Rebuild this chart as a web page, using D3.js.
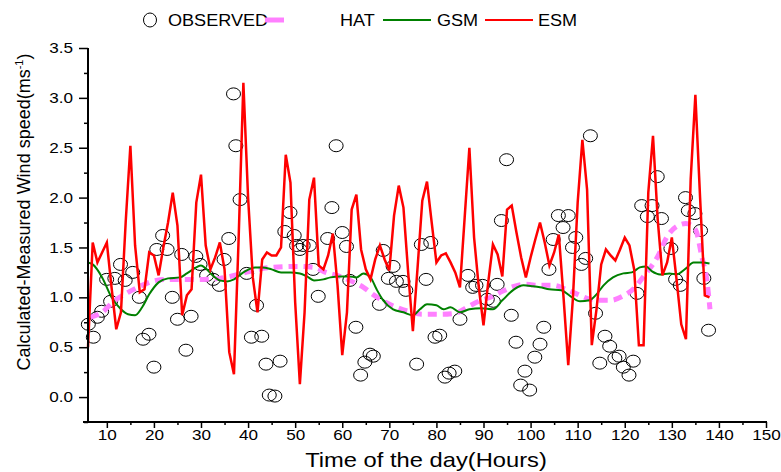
<!DOCTYPE html>
<html><head><meta charset="utf-8">
<script src="https://cdn.jsdelivr.net/npm/d3@7/dist/d3.min.js"></script>
<style>body{margin:0;background:#fff} text{font-family:"Liberation Sans",Arial,sans-serif;fill:#000}</style>
</head><body><svg id="c" width="781" height="472"></svg>
<script>
// ---------- data ----------
const xTickValues = [10,20,30,40,50,60,70,80,90,100,110,120,130,140,150];
const xMinorValues = [15,25,35,45,55,65,75,85,95,105,115,125,135,145];
const yTickValues = [0,0.5,1,1.5,2,2.5,3,3.5];
const yMinorValues = [-0.25,0.25,0.75,1.25,1.75,2.25,2.75,3.25];
const seriesNames = ["OBSERVED","HAT","GSM","ESM"];

const esmStartHour = 6;
const esmValues = [0.5,1.55,1.35,1.45,1.55,1.1,0.68,0.85,1.75,2.52,
 1.52,1.05,1.08,1.45,1.42,1.22,1.5,1.75,2.05,1.72,
 0.82,1.02,1.08,1.95,2.23,1.52,1.28,1.4,1.55,1.28,
 0.45,0.23,1.6,3.15,2.0,1.2,0.85,1.38,1.45,1.42,
 1.42,1.5,2.43,2.15,0.95,0.13,0.85,1.98,2.2,1.32,
 1.28,1.42,1.64,1.12,0.42,0.85,1.88,2.03,1.48,1.28,
 1.18,1.38,1.52,1.38,1.27,1.82,2.12,1.9,1.25,0.66,
 1.3,1.97,2.16,1.75,1.35,1.42,1.44,1.35,1.25,1.1,
 1.8,2.5,1.6,1.1,0.72,1.15,1.53,1.43,1.21,1.88,
 1.92,1.65,1.4,1.2,1.4,1.58,1.75,1.55,1.32,1.45,
 1.63,1.0,0.32,1.0,1.95,2.58,2.08,0.52,0.88,1.33,
 1.48,1.42,1.37,1.48,1.6,1.52,1.28,0.52,0.52,2.05,
 2.62,1.78,1.22,1.35,1.6,1.18,0.73,0.58,2.18,3.03,
 2.0,1.02,1.0];

const gsmHours = [6,7,9,11,13,14.5,16,17.5,19,21,23,25.5,27,29,30,31,32.5,34,35.5,37,39,41.5,43,45,47,49,51,52.5,54,56,57.5,59.5,61.5,63,64.5,66,67.3,68.7,70.8,73,75,76.5,78,80,81.5,83,85,87,89.5,92,94,96.5,98.5,100.5,102,104,106.5,108.5,110.5,112.5,114,115.5,117.5,119.7,121.5,123.2,124.5,125.8,127.5,129.5,131,133,134.6,136.5,138];
const gsmValues = [1.35,1.33,1.2,1.0,0.88,0.83,0.82,0.9,1.03,1.15,1.19,1.2,1.24,1.3,1.32,1.29,1.22,1.17,1.16,1.18,1.25,1.3,1.3,1.28,1.25,1.25,1.24,1.21,1.17,1.18,1.2,1.21,1.21,1.2,1.24,1.2,1.08,0.97,0.88,0.85,0.82,0.88,0.93,0.92,0.88,0.9,0.85,0.88,0.89,0.88,0.97,1.08,1.12,1.11,1.1,1.08,1.07,1.01,0.96,0.97,1.03,1.12,1.2,1.24,1.25,1.3,1.31,1.26,1.23,1.24,1.23,1.29,1.35,1.35,1.34];

const hatHours = [6.5,9,11.5,14.5,17.5,20.5,23.5,27,30.5,34,38,42,45,50,54,56.5,59.5,62.5,64.5,66.5,68.5,71.5,74,77,81,84,86.5,89,92,94,96.5,99,102,105,107.5,110,112,114,117,119.5,122,124,127,129,131,133,135,136.4,137.5,138.1];
const hatValues = [0.8,0.85,0.96,1.05,1.12,1.17,1.18,1.18,1.18,1.19,1.23,1.28,1.3,1.31,1.3,1.25,1.21,1.15,1.1,1.03,0.97,0.9,0.86,0.83,0.83,0.84,0.9,0.96,1.01,1.06,1.11,1.13,1.12,1.12,1.08,1.03,0.99,0.97,0.97,1.01,1.09,1.21,1.41,1.61,1.71,1.74,1.68,1.4,1.15,0.88];

const obsHours = [6.07,7.13,7.98,8.9,9.96,10.8,11.7,12.9,13.9,15.5,16.9,17.7,18.95,20.0,20.6,21.85,22.8,23.9,25.0,25.9,26.8,27.9,28.9,29.8,31.2,32.6,33.9,34.9,35.9,36.9,37.4,38.3,
 39.7,40.7,41.8,42.9,43.8,44.5,45.7,46.8,47.8,48.9,49.8,50.3,51.0,51.7,53.0,53.8,54.9,56.9,57.8,58.7,60.0,60.9,61.6,62.9,63.9,64.8,65.9,66.6,67.9,68.7,69.8,70.8,71.5,72.9,73.5,
 75.8,76.8,77.8,78.8,79.7,80.7,81.8,82.7,83.9,85.0,86.7,87.7,88.4,89.8,90.8,92.1,92.9,93.8,94.9,95.9,96.9,97.9,98.8,99.8,100.9,102.0,102.8,103.9,104.8,105.9,106.9,108.0,108.9,109.6,
 110.8,111.7,112.7,113.8,114.7,115.8,116.8,117.9,118.8,119.7,120.9,121.8,122.6,123.6,124.8,125.8,126.9,127.8,129.8,130.8,131.8,132.9,133.5,134.9,136.1,136.8,137.8];
const obsValues = [0.73,0.6,0.8,0.86,1.18,0.96,1.19,1.33,1.17,1.25,1.0,0.58,0.63,0.3,1.48,1.62,1.48,1.0,0.78,1.43,0.47,0.81,1.41,1.33,1.22,1.18,1.12,1.38,1.59,3.04,2.52,1.98,
 1.24,0.6,0.92,0.61,0.33,0.02,0.01,0.36,1.66,1.85,1.62,1.52,1.48,1.52,1.52,1.28,1.01,1.59,1.9,2.52,1.65,1.51,1.17,0.7,0.22,0.35,0.43,0.41,0.93,1.47,1.19,1.31,1.16,1.16,1.07,
 0.33,1.53,1.18,1.55,0.6,0.62,0.2,0.24,0.26,0.78,1.22,1.1,1.12,1.12,0.98,0.96,1.13,1.77,2.38,0.82,0.55,0.12,0.26,0.07,0.4,0.53,0.7,1.28,1.58,1.82,1.7,1.82,1.5,1.6,
 1.33,1.39,2.62,0.84,0.34,0.61,0.51,0.39,0.41,0.3,0.22,0.36,1.04,1.92,1.81,1.92,2.21,1.79,1.49,1.18,1.12,2.0,1.87,1.84,1.67,1.19,0.67];

// ---------- chart ----------
const svg = d3.select("#c");
const x = d3.scaleLinear().domain([6,150]).range([88,766]);
const y = d3.scaleLinear().domain([-0.25,3.5]).range([422,48]);
const SX = 1.18; // horizontal text stretch seen in the reference

const colHat = "#ff80ff", colGsm = "#008000", colEsm = "#ff0000";

// observed circles
svg.append("g").selectAll("ellipse").data(obsHours.map((h,i)=>[h,obsValues[i]])).join("ellipse")
  .attr("cx",d=>x(d[0])).attr("cy",d=>y(d[1])).attr("rx",7).attr("ry",6)
  .attr("fill","none").attr("stroke","#000").attr("stroke-width",1);

const line = d3.line().x(d=>x(d[0])).y(d=>y(d[1]));
const smooth = d3.line().x(d=>x(d[0])).y(d=>y(d[1])).curve(d3.curveMonotoneX);

svg.append("path").datum(hatHours.map((h,i)=>[h,hatValues[i]]))
  .attr("d",smooth).attr("fill","none").attr("stroke",colHat).attr("stroke-width",5).attr("stroke-dasharray","9,6");
svg.append("path").datum(gsmHours.map((h,i)=>[h,gsmValues[i]]))
  .attr("d",smooth).attr("fill","none").attr("stroke",colGsm).attr("stroke-width",2);
svg.append("path").datum(esmValues.map((v,i)=>[esmStartHour+i,v]))
  .attr("d",line).attr("fill","none").attr("stroke",colEsm).attr("stroke-width",2.5).attr("stroke-linejoin","miter");

// axes
function stretch(sel){
  sel.each(function(){
    const t=d3.select(this); const tx=+t.attr("x")||0;
    t.attr("x",0).attr("transform",`translate(${tx},0) scale(${SX},1)`);
  });
}
const gx = svg.append("g").attr("transform","translate(0,422)");
gx.call(d3.axisBottom(x).tickValues(xTickValues).tickSize(6).tickSizeOuter(0).tickPadding(2));
gx.append("g").call(d3.axisBottom(x).tickValues(xMinorValues).tickSize(3).tickSizeOuter(0).tickFormat(""));
gx.selectAll(".domain").remove();
gx.selectAll("line").attr("stroke","#000").attr("stroke-width",1.5);
gx.selectAll("text").attr("font-size",14.5).attr("font-family","'Liberation Sans',Arial,sans-serif").call(stretch);

const gy = svg.append("g").attr("transform","translate(88,0)");
gy.call(d3.axisLeft(y).tickValues(yTickValues).tickSize(9).tickSizeOuter(0).tickPadding(6).tickFormat(d3.format(".1f")));
gy.append("g").call(d3.axisLeft(y).tickValues(yMinorValues).tickSize(4).tickSizeOuter(0).tickFormat(""));
gy.selectAll(".domain").remove();
gy.selectAll("line").attr("stroke","#000").attr("stroke-width",1.5);
gy.selectAll("text").attr("font-size",14.5).attr("font-family","'Liberation Sans',Arial,sans-serif").call(stretch);

svg.append("line").attr("x1",83).attr("x2",767).attr("y1",422).attr("y2",422).attr("stroke","#000").attr("stroke-width",2);
svg.append("line").attr("x1",88).attr("x2",88).attr("y1",48).attr("y2",423).attr("stroke","#000").attr("stroke-width",2);

// axis titles
svg.append("text").attr("transform",`translate(426,467) scale(${SX-0.05},1)`).attr("text-anchor","middle").attr("font-size",21).text("Time of the day(Hours)");
const yt = svg.append("text").attr("transform","translate(30,212) rotate(-90)").attr("text-anchor","middle").attr("font-size",18);
yt.append("tspan").text("Calculated-Measured Wind speed(ms");
yt.append("tspan").attr("font-size",11).attr("dy",-7).text("-1");
yt.append("tspan").attr("dy",7).text(")");

// legend
const ly = 20;
function legText(xp, s){
  svg.append("text").attr("transform",`translate(${xp},${ly+6}) scale(${SX-0.05},1)`).attr("font-size",16).text(s);
}
svg.append("ellipse").attr("cx",150).attr("cy",ly).attr("rx",6.5).attr("ry",7).attr("fill","none").attr("stroke","#000");
legText(168, seriesNames[0]);
svg.append("line").attr("x1",265).attr("x2",284).attr("y1",ly).attr("y2",ly).attr("stroke",colHat).attr("stroke-width",5);
legText(340, seriesNames[1]);
svg.append("line").attr("x1",383).attr("x2",431).attr("y1",ly).attr("y2",ly).attr("stroke",colGsm).attr("stroke-width",2);
legText(437, seriesNames[2]);
svg.append("line").attr("x1",485).attr("x2",533).attr("y1",ly).attr("y2",ly).attr("stroke",colEsm).attr("stroke-width",2);
legText(538, seriesNames[3]);
</script></body></html>
